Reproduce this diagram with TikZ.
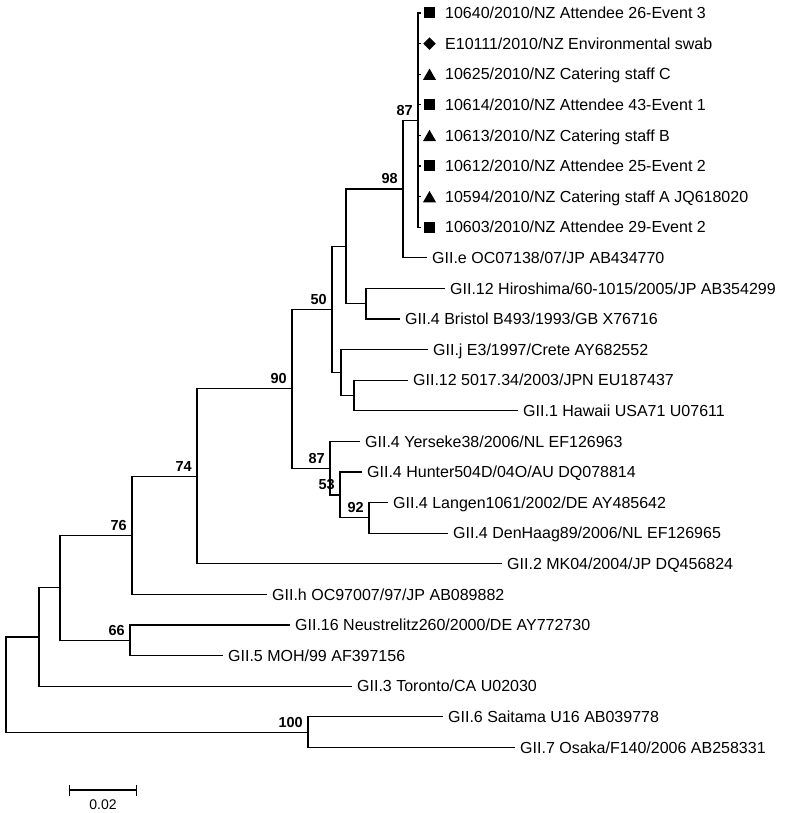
\documentclass[tikz,border=0pt]{standalone}
\usepackage{fontspec}
\setmainfont{Liberation Sans}
\usetikzlibrary{shapes.geometric,arrows.meta}
\begin{document}
\begin{tikzpicture}[x=1pt,y=-1pt,
  br/.style={line width=1.1pt, line join=miter},
  leaf/.style={anchor=base west, inner sep=0pt, font=\fontsize{16}{18}\selectfont, xshift=5pt, yshift=-5.7pt},
  boot/.style={anchor=base east, inner sep=0pt, font=\fontsize{14.5}{16}\selectfont\bfseries, xshift=-5pt, yshift=5pt},
  sqmark/.style={rectangle, fill=black, inner sep=0pt, minimum size=11pt},
  dimark/.style={diamond, fill=black, inner sep=0pt, minimum width=12.5pt, minimum height=12.5pt},
  trmark/.style={regular polygon, regular polygon sides=3, fill=black, inner sep=0pt, minimum size=15pt},
]
\useasboundingbox (0,0) rectangle (785,813);
% internal nodes
\coordinate (root) at (6,684.5);
\coordinate (nC) at (39,637);
\coordinate (nB) at (60,587.8);
\coordinate (n76) at (132,535.35);
\coordinate (n74) at (197,476.3);
\coordinate (n90) at (292,388.8);
\coordinate (n50) at (332,309.4);
\coordinate (nA) at (346,246.3);
\coordinate (n98) at (403,188.95);
\coordinate (nNZ) at (418,120.1);
\coordinate (nHB) at (366,303.7);
\coordinate (nJ) at (341,372.55);
\coordinate (nHaw) at (354,395.5);
\coordinate (n87b) at (330,468.2);
\coordinate (n53) at (340,494.95);
\coordinate (n92) at (369,517.9);
\coordinate (n66) at (130,640.3);
\coordinate (n100) at (308,732.1);
% leaf ends
\coordinate (e1) at (421,13);
\coordinate (e2) at (421,43.6);
\coordinate (e3) at (421,74.2);
\coordinate (e4) at (421,104.8);
\coordinate (e5) at (421,135.4);
\coordinate (e6) at (421,166);
\coordinate (e7) at (421,196.6);
\coordinate (e8) at (421,227.2);
\coordinate (e9) at (427,257.8);
\coordinate (e10) at (445,288.4);
\coordinate (e11) at (400,319);
\coordinate (e12) at (428,349.6);
\coordinate (e13) at (408,380.2);
\coordinate (e14) at (518,410.8);
\coordinate (e15) at (360,441.4);
\coordinate (e16) at (362,472);
\coordinate (e17) at (388,502.6);
\coordinate (e18) at (448,533.2);
\coordinate (e19) at (502,563.8);
\coordinate (e20) at (267,594.4);
\coordinate (e21) at (290,625);
\coordinate (e22) at (223,655.6);
\coordinate (e23) at (352,686.2);
\coordinate (e24) at (443,716.8);
\coordinate (e25) at (515,747.4);
% branches
\foreach \p/\c in {root/nC, root/n100, nC/nB, nC/e23, nB/n76, nB/n66, n76/n74, n76/e20,
  n74/n90, n74/e19, n90/n50, n90/n87b, n50/nA, n50/nJ, nA/n98, nA/nHB, n98/nNZ, n98/e9,
  nNZ/e1, nNZ/e2, nNZ/e3, nNZ/e4, nNZ/e5, nNZ/e6, nNZ/e7, nNZ/e8,
  nHB/e10, nHB/e11, nJ/e12, nJ/nHaw, nHaw/e13, nHaw/e14, n87b/e15, n87b/n53,
  n53/e16, n53/n92, n92/e17, n92/e18, n66/e21, n66/e22, n100/e24, n100/e25}
  \draw[br] (\p) |- (\c);
% markers
\node[sqmark] (m1) at (429.5,13) {};
\node[dimark] (m2) at (429.5,43.6) {};
\node[trmark] (m3) at (429.5,76.1) {};
\node[sqmark] (m4) at (429.5,104.8) {};
\node[trmark] (m5) at (429.5,137.3) {};
\node[sqmark] (m6) at (429.5,166) {};
\node[trmark] (m7) at (429.5,198.5) {};
\node[sqmark] (m8) at (429.5,227.2) {};
% leaf labels
\node[leaf] (L1) at (440,13) {10640/2010/NZ Attendee 26-Event 3};
\node[leaf] (L2) at (440,43.6) {E10111/2010/NZ Environmental swab};
\node[leaf] (L3) at (440,74.2) {10625/2010/NZ Catering staff C};
\node[leaf] (L4) at (440,104.8) {10614/2010/NZ Attendee 43-Event 1};
\node[leaf] (L5) at (440,135.4) {10613/2010/NZ Catering staff B};
\node[leaf] (L6) at (440,166) {10612/2010/NZ Attendee 25-Event 2};
\node[leaf] (L7) at (440,196.6) {10594/2010/NZ Catering staff A JQ618020};
\node[leaf] (L8) at (440,227.2) {10603/2010/NZ Attendee 29-Event 2};
\node[leaf] (L9) at (e9) {GII.e OC07138/07/JP AB434770};
\node[leaf] (L10) at (e10) {GII.12 Hiroshima/60-1015/2005/JP AB354299};
\node[leaf] (L11) at (e11) {GII.4 Bristol B493/1993/GB X76716};
\node[leaf] (L12) at (e12) {GII.j E3/1997/Crete AY682552};
\node[leaf] (L13) at (e13) {GII.12 5017.34/2003/JPN EU187437};
\node[leaf] (L14) at (e14) {GII.1 Hawaii USA71 U07611};
\node[leaf] (L15) at (e15) {GII.4 Yerseke38/2006/NL EF126963};
\node[leaf] (L16) at (e16) {GII.4 Hunter504D/04O/AU DQ078814};
\node[leaf] (L17) at (e17) {GII.4 Langen1061/2002/DE AY485642};
\node[leaf] (L18) at (e18) {GII.4 DenHaag89/2006/NL EF126965};
\node[leaf] (L19) at (e19) {GII.2 MK04/2004/JP DQ456824};
\node[leaf] (L20) at (e20) {GII.h OC97007/97/JP AB089882};
\node[leaf] (L21) at (e21) {GII.16 Neustrelitz260/2000/DE AY772730};
\node[leaf] (L22) at (e22) {GII.5 MOH/99 AF397156};
\node[leaf] (L23) at (e23) {GII.3 Toronto/CA U02030};
\node[leaf] (L24) at (e24) {GII.6 Saitama U16 AB039778};
\node[leaf] (L25) at (e25) {GII.7 Osaka/F140/2006 AB258331};
% bootstrap values
\node[boot] (b87) at (nNZ) {87};
\node[boot] (b98) at (n98) {98};
\node[boot] (b50) at (n50) {50};
\node[boot] (b90) at (n90) {90};
\node[boot] (b87b) at (n87b) {87};
\node[boot] (b53) at (n53) {53};
\node[boot] (b92) at (n92) {92};
\node[boot] (b74) at (n74) {74};
\node[boot] (b76) at (n76) {76};
\node[boot] (b66) at (n66) {66};
\node[boot] (b100) at (n100) {100};
% scale bar
\coordinate (s1) at (69,790);
\coordinate (s2) at (137,790);
\draw[line width=1.3pt, {Bar[width=11pt]}-{Bar[width=11pt]}] (s1) -- (s2);
\node[font=\fontsize{14}{16}\selectfont, inner sep=0pt] (sl) at (103,805) {0.02};
\end{tikzpicture}
\end{document}
